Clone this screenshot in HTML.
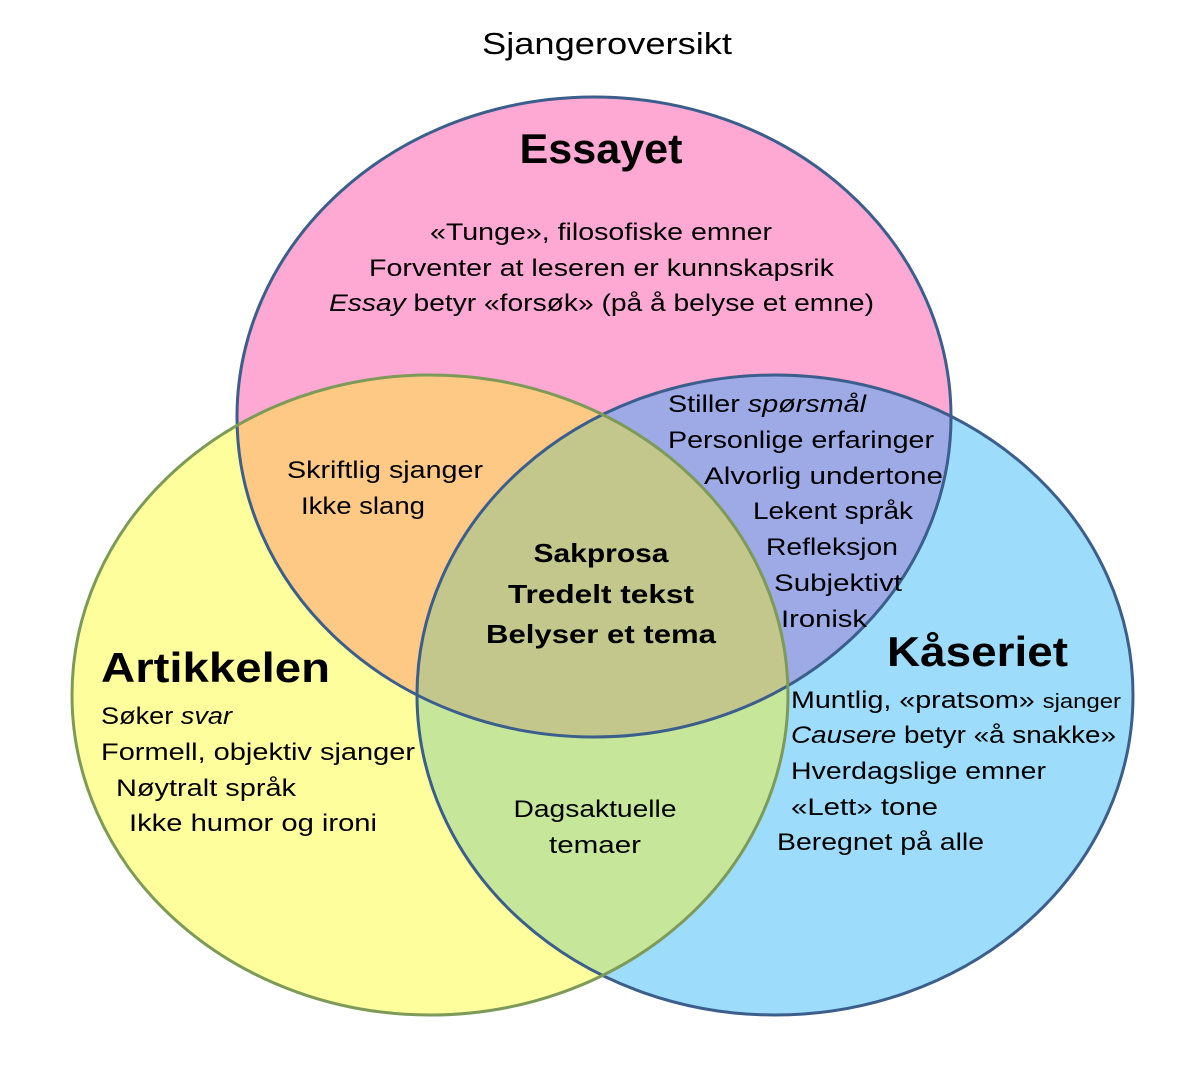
<!DOCTYPE html>
<html><head><meta charset="utf-8"><style>
html,body{margin:0;padding:0;background:#fff;width:1204px;height:1080px;overflow:hidden}
text{font-family:"Liberation Sans",sans-serif;fill:#000}
</style></head><body>
<svg width="1204" height="1080" viewBox="0 0 1204 1080">
<defs>
<clipPath id="cT"><ellipse cx="594" cy="417" rx="357" ry="320"/></clipPath>
<clipPath id="cL"><ellipse cx="430" cy="695" rx="358" ry="320"/></clipPath>
<clipPath id="cR"><ellipse cx="775" cy="695" rx="358" ry="320"/></clipPath>
</defs>
<ellipse cx="594" cy="417" rx="357" ry="320" fill="#fda9d4"/>
<ellipse cx="430" cy="695" rx="358" ry="320" fill="#fefe9c"/>
<ellipse cx="775" cy="695" rx="358" ry="320" fill="#9ddcfb"/>
<g clip-path="url(#cT)"><ellipse cx="430" cy="695" rx="358" ry="320" fill="#fdc984"/>
<ellipse cx="775" cy="695" rx="358" ry="320" fill="#9eaae6"/></g>
<g clip-path="url(#cL)"><ellipse cx="775" cy="695" rx="358" ry="320" fill="#c6e79a"/>
<g clip-path="url(#cT)"><ellipse cx="775" cy="695" rx="358" ry="320" fill="#c4c78c"/></g></g>
<ellipse cx="594" cy="417" rx="357" ry="320" fill="none" stroke="#3b5e8c" stroke-width="3"/>
<ellipse cx="775" cy="695" rx="358" ry="320" fill="none" stroke="#3b5e8c" stroke-width="3"/>
<ellipse cx="430" cy="695" rx="358" ry="320" fill="none" stroke="#7d9a58" stroke-width="3"/>
<text x="607" y="54" font-size="31" text-anchor="middle" textLength="250" lengthAdjust="spacingAndGlyphs">Sjangeroversikt</text>
<text x="601" y="163" font-size="42" font-weight="bold" text-anchor="middle" textLength="163" lengthAdjust="spacingAndGlyphs">Essayet</text>
<g font-size="24">
<text x="430" y="240" textLength="342" lengthAdjust="spacingAndGlyphs">«Tunge», filosofiske emner</text>
<text x="369" y="276" textLength="465" lengthAdjust="spacingAndGlyphs">Forventer at leseren er kunnskapsrik</text>
<text x="329" y="311" textLength="545" lengthAdjust="spacingAndGlyphs"><tspan font-style="italic">Essay</tspan> betyr «forsøk» (på å belyse et emne)</text>
<text x="668" y="412" textLength="198" lengthAdjust="spacingAndGlyphs">Stiller <tspan font-style="italic">spørsmål</tspan></text>
<text x="668" y="448" textLength="266" lengthAdjust="spacingAndGlyphs">Personlige erfaringer</text>
<text x="704" y="484" textLength="239" lengthAdjust="spacingAndGlyphs">Alvorlig undertone</text>
<text x="753" y="519" textLength="160" lengthAdjust="spacingAndGlyphs">Lekent språk</text>
<text x="766" y="555" textLength="132" lengthAdjust="spacingAndGlyphs">Refleksjon</text>
<text x="774" y="591" textLength="128" lengthAdjust="spacingAndGlyphs">Subjektivt</text>
<text x="781" y="627" textLength="86" lengthAdjust="spacingAndGlyphs">Ironisk</text>
<text x="287" y="478" textLength="196" lengthAdjust="spacingAndGlyphs">Skriftlig sjanger</text>
<text x="301" y="514" textLength="124" lengthAdjust="spacingAndGlyphs">Ikke slang</text>
<text x="101" y="724" textLength="131" lengthAdjust="spacingAndGlyphs">Søker <tspan font-style="italic">svar</tspan></text>
<text x="101" y="760" textLength="314" lengthAdjust="spacingAndGlyphs">Formell, objektiv sjanger</text>
<text x="116" y="796" textLength="180" lengthAdjust="spacingAndGlyphs">Nøytralt språk</text>
<text x="129" y="831" textLength="248" lengthAdjust="spacingAndGlyphs">Ikke humor og ironi</text>
<text x="595" y="817" text-anchor="middle" textLength="163" lengthAdjust="spacingAndGlyphs">Dagsaktuelle</text>
<text x="595" y="853" text-anchor="middle" textLength="92" lengthAdjust="spacingAndGlyphs">temaer</text>
<text x="791" y="708" textLength="330" lengthAdjust="spacingAndGlyphs">Muntlig, «pratsom» <tspan font-size="20">sjanger</tspan></text>
<text x="791" y="743" textLength="325" lengthAdjust="spacingAndGlyphs"><tspan font-style="italic">Causere</tspan> betyr «å snakke»</text>
<text x="791" y="779" textLength="255" lengthAdjust="spacingAndGlyphs">Hverdagslige emner</text>
<text x="791" y="815" textLength="147" lengthAdjust="spacingAndGlyphs">«Lett» tone</text>
<text x="777" y="850" textLength="207" lengthAdjust="spacingAndGlyphs">Beregnet på alle</text>
</g>
<g font-size="26" font-weight="bold">
<text x="601" y="562" text-anchor="middle" textLength="135" lengthAdjust="spacingAndGlyphs">Sakprosa</text>
<text x="601" y="603" text-anchor="middle" textLength="186" lengthAdjust="spacingAndGlyphs">Tredelt tekst</text>
<text x="601" y="643" text-anchor="middle" textLength="230" lengthAdjust="spacingAndGlyphs">Belyser et tema</text>
</g>
<text x="101" y="682" font-size="42" font-weight="bold" textLength="229" lengthAdjust="spacingAndGlyphs">Artikkelen</text>
<text x="887" y="666" font-size="42" font-weight="bold" textLength="181" lengthAdjust="spacingAndGlyphs">Kåseriet</text>
</svg>
</body></html>
